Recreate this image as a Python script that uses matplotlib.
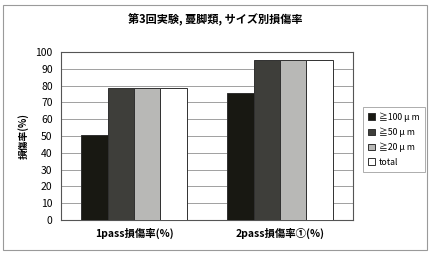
import matplotlib
matplotlib.use("Agg")
import matplotlib.pyplot as plt
import numpy as np
from matplotlib.patches import Rectangle

plt.rcParams['font.family'] = ['Noto Sans CJK JP', 'DejaVu Sans']

categories = ["1pass損傷率(%)", "2pass損傷率①(%)"]
series_names = ["≧100 μ m", "≧50 μ m", "≧20 μ m", "total"]
values = {
    "≧100 μ m": [50.3, 75.5],
    "≧50 μ m": [78.6, 95.4],
    "≧20 μ m": [78.6, 95.4],
    "total": [78.6, 95.4],
}
yticks = list(range(0, 101, 10))
colors = ["#181812", "#3e3e3a", "#b8b8b6", "#ffffff"]

fig = plt.figure(figsize=(4.3, 2.58), dpi=100)
fig.patch.set_facecolor("white")
# outer frame
fig.add_artist(Rectangle((3/430, 1 - 250/258), 424/430, 245/258, transform=fig.transFigure,
                         fill=False, edgecolor="#9a9a9a", linewidth=0.8))

ax = fig.add_axes([61/430, 1 - 220/258, 292/430, 168/258])
x = np.arange(len(categories))
w = 0.18
for i, name in enumerate(series_names):
    ax.bar(x + (i - 1.5) * w, values[name], w, color=colors[i], edgecolor="#303030",
           linewidth=0.7, label=name, zorder=3)

ax.set_xlim(-0.5, 1.5)
ax.set_ylim(0, 100)
ax.set_yticks(yticks)
ax.set_yticklabels([str(t) for t in yticks], fontsize=7.5)
ax.yaxis.grid(True, color="#a0a0a0", linewidth=0.7, zorder=0)
ax.set_xticks(x)
ax.set_xticklabels(categories, fontsize=7.5, fontweight="bold")
ax.tick_params(axis="both", length=0, pad=6)
for s in ax.spines.values():
    s.set_color("#555555")
    s.set_linewidth(0.8)
ax.set_ylabel("損傷率(%)", fontsize=7, fontweight="bold", labelpad=5)

fig.text(0.5, 1 - 20/258, "第3回実験, 蔓脚類, サイズ別損傷率", ha="center", va="center",
         fontsize=8, fontweight="bold")

leg = ax.legend(loc="upper left", bbox_to_anchor=((363 - 61) / 292, (220 - 107) / 168),
                borderaxespad=0,
                fontsize=6.3, frameon=True, fancybox=False, edgecolor="#888888",
                handlelength=0.8, handleheight=0.8, handletextpad=0.4, labelspacing=0.65,
                borderpad=0.6)
leg.get_frame().set_linewidth(0.6)

fig.savefig("out.png", dpi=100)
